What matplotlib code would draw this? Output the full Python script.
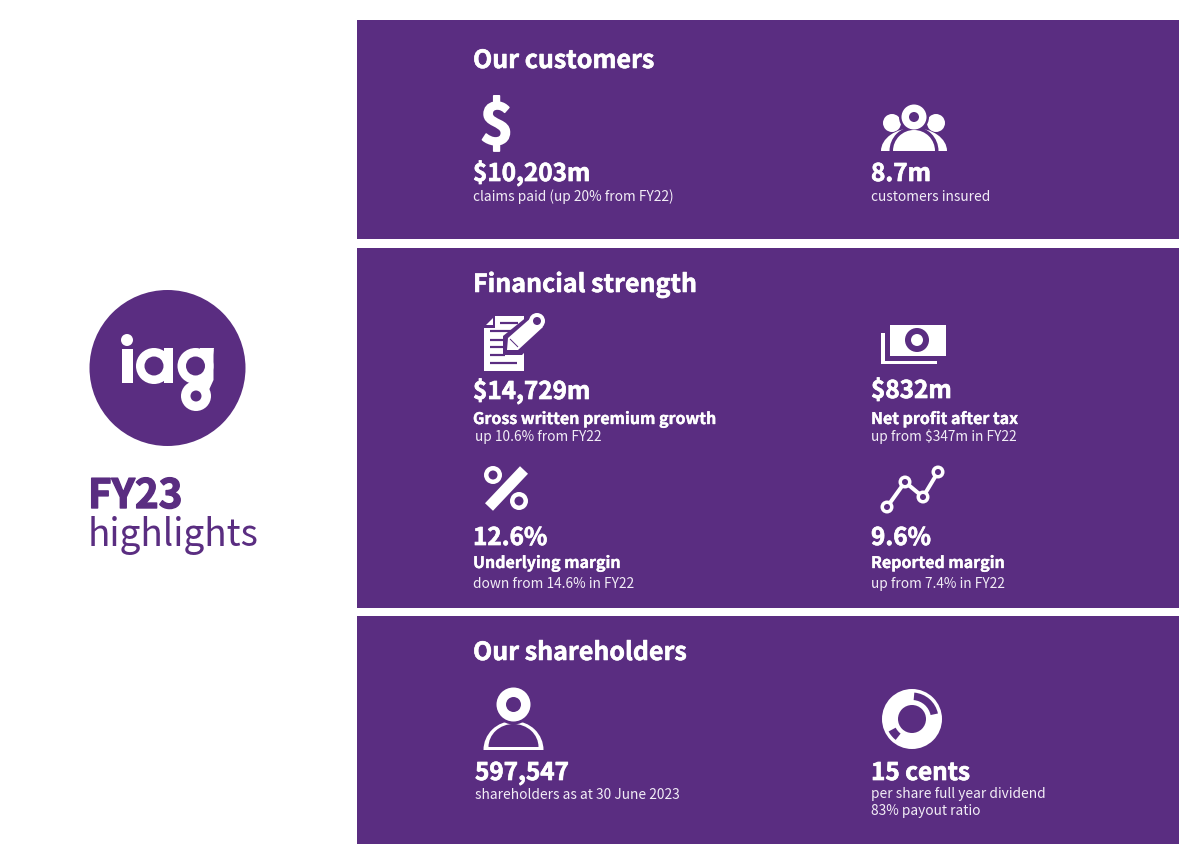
import matplotlib
matplotlib.use('Agg')
import matplotlib.pyplot as plt
import matplotlib.patheffects as pe
from matplotlib.patches import Circle, Ellipse, Polygon, Rectangle, Wedge

plt.rcParams['font.family'] = ['Noto Sans CJK SC', 'DejaVu Sans']

PURPLE = '#5a2d81'
WHITE = '#ffffff'

# text content
side_title = 'FY23'
side_subtitle = 'highlights'
headings = ['Our customers', 'Financial strength', 'Our shareholders']
values = ['$10,203m', '8.7m', '$14,729m', '$832m', '12.6%', '9.6%', '597,547', '15 cents']
labels = ['', '', 'Gross written premium growth', 'Net profit after tax',
          'Underlying margin', 'Reported margin', '', '']
notes = ['claims paid (up 20% from FY22)', 'customers insured', 'up 10.6% from FY22',
         'up from $347m in FY22', 'down from 14.6% in FY22', 'up from 7.4% in FY22',
         'shareholders as at 30 June 2023', 'per share full year dividend\n83% payout ratio']

# layout, in image pixels
panel_tops = [20, 248, 616]
panel_bottoms = [239, 608, 844]
heading_base = [68, 292, 660]
value_x = [473, 871, 473, 871, 473, 871, 475, 871]
value_base = [181, 181, 399, 398, 545, 545, 780, 780]
label_x = [473, 871, 473, 871, 473, 871, 475, 871]
label_base = [0, 0, 424, 424, 568, 568, 0, 0]
note_x = [473, 871, 475, 871, 473, 871, 475, 871]
note_base = [201, 201, 441, 441, 588, 588, 799, 798]

fig = plt.figure(figsize=(12, 8.64), dpi=100, facecolor=WHITE)
ax = fig.add_axes([0, 0, 1, 1])
ax.set_xlim(0, 1200)
ax.set_ylim(864, 0)
ax.axis('off')


def circle(x, y, r, color=WHITE, z=3):
    ax.add_patch(Circle((x, y), r, fc=color, ec='none', zorder=z))


def ring(x, y, r_out, r_in, fg=WHITE, bg=PURPLE, z=3):
    circle(x, y, r_out, fg, z)
    circle(x, y, r_in, bg, z + 0.1)


def rect(x0, y0, x1, y1, color=WHITE, z=3):
    ax.add_patch(Rectangle((x0, y0), x1 - x0, y1 - y0, fc=color, ec='none', zorder=z))


def poly(points, color=WHITE, z=3):
    ax.add_patch(Polygon(points, fc=color, ec='none', zorder=z))


def dome(x, base, half_w, height, color=WHITE, z=3):
    # top half of an ellipse, y axis is inverted so clip everything under base
    e = Ellipse((x, base), half_w * 2, height * 2, fc=color, ec='none', zorder=z)
    ax.add_patch(e)
    e.set_clip_path(Rectangle((x - half_w - 1, base - height - 1), half_w * 2 + 2, height + 1,
                              transform=ax.transData))


def bar(x0, y0, x1, y1, w, color=WHITE, z=3):
    ax.plot([x0, x1], [y0, y1], color=color, lw=w * 0.72, solid_capstyle='butt', zorder=z)


def bold(w):
    return [pe.withStroke(linewidth=w, foreground=WHITE)]


def logo():
    circle(167.5, 368, 78, PURPLE, 2)
    circle(127, 340, 6)
    rect(122, 349, 132.5, 383)
    ring(154, 366, 18, 9.5)
    rect(164, 348, 173, 383)
    ring(195.5, 366, 18, 9.5)
    # top bar and neck of the g
    poly([(200, 348), (214, 348), (213, 355), (200, 355)], z=3)
    poly([(204, 350), (213.5, 350), (213.5, 380), (208, 392), (196, 392), (196, 380)], z=3.05)
    ring(196, 396, 15, 5.5, z=3.2)


def people_icon():
    for x in [892, 936]:
        circle(x, 123, 9)
    dome(914, 151, 33, 23)
    dome(914, 151, 24.5, 24.5, PURPLE, 3.2)
    circle(914, 117, 15, PURPLE, 3.2)
    ring(914, 117, 12.5, 5, z=3.3)
    dome(914, 151, 21, 21, z=3.3)


def document_icon():
    poly([(495, 316), (524, 316), (524, 371), (484, 371), (484, 328), (495, 328)])
    poly([(486, 325), (493, 318), (493, 325)])
    # text lines on the sheet
    for y0, x0, x1 in [(323, 500, 518), (331, 490, 513), (340, 490, 513), (347, 490, 508),
                       (355, 490, 505), (363, 490, 517)]:
        bar(x0, y0, x1, y0, 2.2, PURPLE, 3.1)
    # pencil with a purple halo
    halo = [(533, 312), (549, 327), (522, 355), (503, 355), (503, 336)]
    poly(halo, PURPLE, 3.2)
    poly([(532, 317), (543, 327), (518, 350), (507, 350), (508, 338)], WHITE, 3.3)
    bar(510, 339, 518, 347, 1, PURPLE, 3.4)
    ring(537, 321, 8, 4, z=3.5)


def money_icon():
    rect(881, 333, 885, 364)
    rect(881, 360.5, 937, 364)
    rect(890, 325, 946, 356)
    ring(917, 340, 12, 6, PURPLE, WHITE)


def percent_icon():
    ring(493, 475, 9, 4.5)
    ring(519, 501, 9, 4.5)
    bar(524, 470, 489, 507, 11)


def trend_icon():
    xs = [887, 905, 923, 938]
    ys = [507, 482, 497, 472]
    ax.plot(xs, ys, color=WHITE, lw=4 * 0.72, zorder=3)
    for x, y in zip(xs, ys):
        ring(x, y, 6.5, 3)


def person_icon():
    dome(513.5, 750, 30, 29)
    dome(513.5, 747, 25, 23, PURPLE, 3.1)
    circle(513.5, 704.5, 20, PURPLE, 3.2)
    ring(513.5, 704.5, 17, 7.5, z=3.3)


def donut_icon():
    circle(912, 719, 30)
    circle(912, 719, 14, PURPLE, 3.1)
    ax.add_patch(Wedge((912, 719), 26.5, -85, -12, width=7.5, fc=PURPLE, ec='none', zorder=3.1))
    ax.add_patch(Wedge((912, 719), 26.5, 128, 152, width=8, fc=PURPLE, ec='none', zorder=3.1))


for top, bottom in zip(panel_tops, panel_bottoms):
    rect(357, top, 1179, bottom, PURPLE, 1)

logo()
people_icon()
document_icon()
money_icon()
percent_icon()
trend_icon()
person_icon()
donut_icon()
ax.text(496.5, 144, '$', color=WHITE, fontsize=41, fontweight='bold', ha='center', va='baseline',
        zorder=3, path_effects=bold(1.2))

ax.text(88, 508, side_title, color=PURPLE, fontsize=29, fontweight='bold', va='baseline',
        path_effects=[pe.withStroke(linewidth=1.0, foreground=PURPLE)])
ax.text(88, 546, side_subtitle, color=PURPLE, fontsize=26.6, va='baseline')

for head, y in zip(headings, heading_base):
    ax.text(473, y, head, color=WHITE, fontsize=18, fontweight='bold', va='baseline', path_effects=bold(0.4))

for i in range(len(values)):
    ax.text(value_x[i], value_base[i], values[i], color=WHITE, fontsize=17.5, fontweight='bold',
            va='baseline', path_effects=bold(0.5))
    if labels[i]:
        ax.text(label_x[i], label_base[i], labels[i], color=WHITE, fontsize=11.5, fontweight='bold',
                va='baseline', path_effects=bold(0.25))
    lines = notes[i].split('\n')
    for k, line in enumerate(lines):
        ax.text(note_x[i], note_base[i] + k * 17, line, color='#f2edf6', fontsize=9.9, va='baseline')

fig.savefig('out.png', dpi=100, facecolor=WHITE)
